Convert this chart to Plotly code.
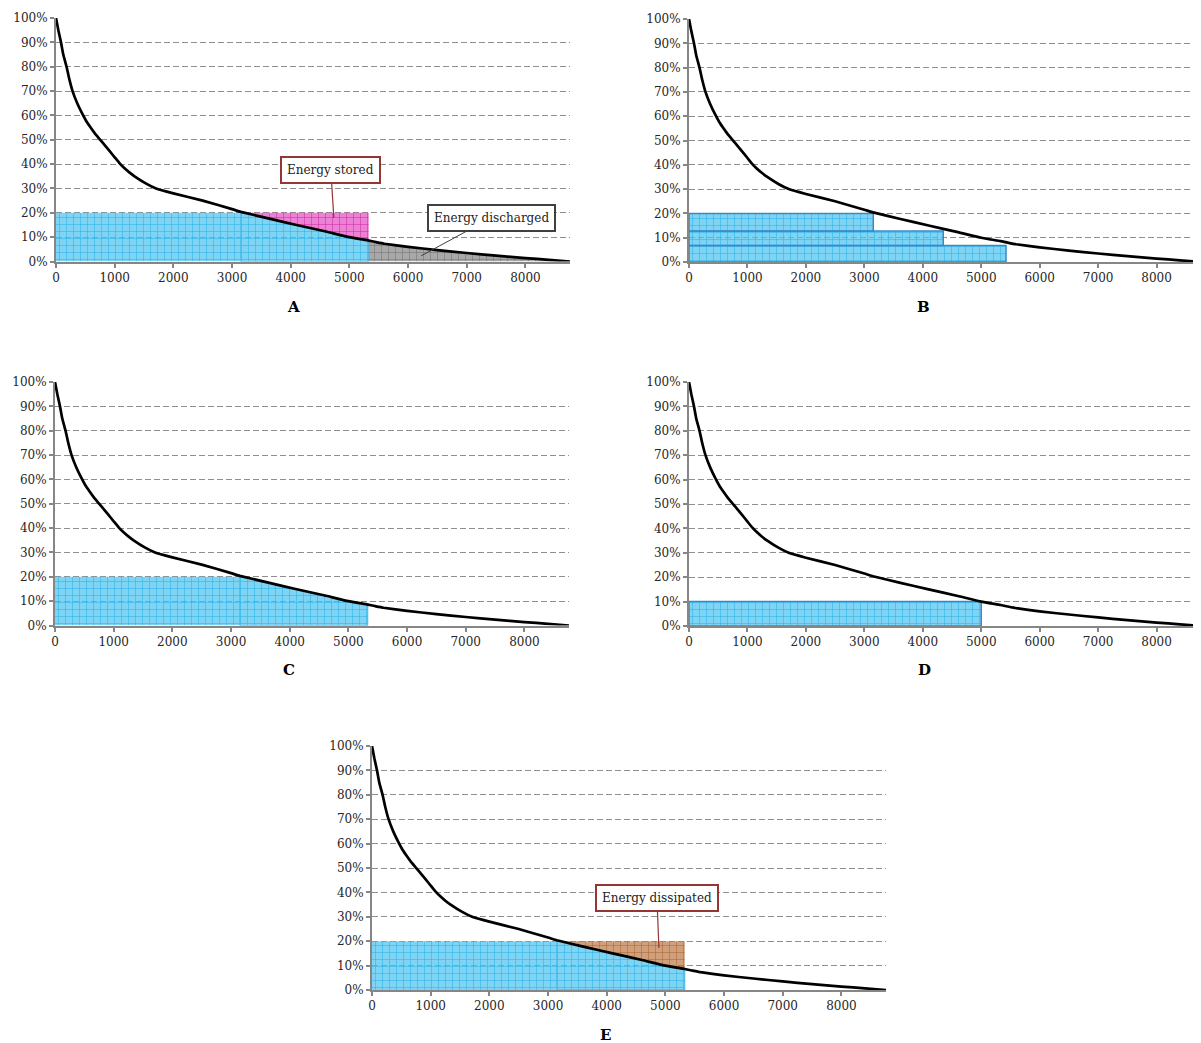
import numpy as np
import plotly.graph_objects as go

# ---------------- data ----------------
curve_hours = [0, 40, 85, 124, 180, 226, 282, 362, 452, 520, 590, 665, 746, 830, 915, 1000,
               1085, 1150, 1250, 1339, 1537, 1706, 2000, 2500, 3000, 3150, 3600, 4100, 4600,
               5000, 5330, 5450, 5600, 6000, 6500, 7000, 7500, 8000, 8400, 8760]
curve_pct = [100, 95, 90, 85, 80, 75, 70, 65, 60.5, 57.5, 55, 52.5, 50.2, 47.8, 45.3, 42.8,
             40.3, 38.7, 36.6, 35, 32, 30, 28, 25, 21.5, 20.4, 17.8, 15, 12.3,
             10, 8.6, 8.0, 7.3, 6.0, 4.7, 3.5, 2.4, 1.4, 0.7, 0]

x_ticks = [0, 1000, 2000, 3000, 4000, 5000, 6000, 7000, 8000]
y_ticks = [0, 10, 20, 30, 40, 50, 60, 70, 80, 90, 100]
panel_labels = ["A", "B", "C", "D", "E"]

store_level = 20          # storage power level (%)
store_start = 3150        # hour where curve crosses storage level
store_end = 5330          # end of storage operation (hours)

# panel B: stacked steps (bottom, top, right end)
b_steps_low = [0, 6.8, 12.8]
b_steps_high = [6.8, 12.8, 20]
b_steps_end = [5424, 4350, 3153]

# panel D: rectangle
d_level = 10
d_end = 5000

x_max = 8760

# ---------------- styles ----------------
BLUE_BG = "rgba(74,194,239,0.7)"
BLUE_FG = "#22b0e8"
PINK_BG = "rgba(230,75,196,0.7)"
PINK_FG = "#c8289e"
GREY_BG = "rgba(131,131,131,0.7)"
GREY_FG = "#6e6e6e"
BROWN_BG = "rgba(188,120,70,0.7)"
BROWN_FG = "#a85e2a"
FONT = "DejaVu Serif"
TXT = "#262626"

OFF = 8  # page body margin offset in the browser
W, H = 1201 + OFF, 1043 + OFF
panels = {
    # name: (left, right, top, bottom) in page pixels
    "A": (56, 570, 18, 261.5),
    "B": (689, 1201, 19, 262),
    "C": (55, 569, 382, 625.5),
    "D": (689, 1201, 382, 626),
    "E": (372, 886, 746, 990),
}
label_pos = {"A": (293, 307), "B": (923, 307), "C": (289, 670), "D": (924, 670), "E": (605, 1035)}

fig = go.Figure()

ch = np.array(curve_hours, dtype=float)
cp = np.array(curve_pct, dtype=float)


def curve_segment(x0, x1):
    mask = (ch > x0) & (ch < x1)
    xs = np.concatenate([[x0], ch[mask], [x1]])
    ys = np.interp(xs, ch, cp)
    return xs, ys


def pat(bg, fg):
    return dict(shape="+", bgcolor=bg, fgcolor=fg, size=7, solidity=0.14, fillmode="replace")


def add_poly(xs, ys, idx, bg, fg, line_color=None, line_width=0):
    ax = "" if idx == 1 else str(idx)
    fig.add_trace(go.Scatter(
        x=list(xs), y=list(ys), mode="lines", fill="toself",
        fillcolor=bg, fillpattern=pat(bg, fg),
        line=dict(color=line_color or "rgba(0,0,0,0)", width=line_width),
        xaxis="x" + ax, yaxis="y" + ax, hoverinfo="skip", showlegend=False))


def add_blue_storage(idx):
    add_poly([0, 0, store_start, store_start, 0], [0, store_level, store_level, 0, 0],
             idx, BLUE_BG, BLUE_FG)
    sx, sy = curve_segment(store_start, store_end)
    xs = np.concatenate([[store_start], sx, [store_end, store_start]])
    ys = np.concatenate([[0], sy, [0, 0]])
    add_poly(xs, ys, idx, BLUE_BG, BLUE_FG, line_color="#3ab8ea", line_width=1)


def add_above(idx, bg, fg):
    sx, sy = curve_segment(store_start, store_end)
    xs = np.concatenate([sx, [store_end, store_start, store_start]])
    ys = np.concatenate([sy, [store_level, store_level, sy[0]]])
    add_poly(xs, ys, idx, bg, fg)


for i, name in enumerate(panel_labels, start=1):
    if name in ("A", "C", "E"):
        add_blue_storage(i)
    if name == "A":
        add_above(i, PINK_BG, PINK_FG)
        sx, sy = curve_segment(store_end, x_max)
        xs = np.concatenate([[store_end], sx, [x_max, store_end]])
        ys = np.concatenate([[0], sy, [0, 0]])
        add_poly(xs, ys, i, GREY_BG, GREY_FG)
    if name == "E":
        add_above(i, BROWN_BG, BROWN_FG)
    if name == "B":
        for lo, hi, end in zip(b_steps_low, b_steps_high, b_steps_end):
            add_poly([0, 0, end, end, 0], [lo, hi, hi, lo, lo], i, BLUE_BG, BLUE_FG,
                     line_color="#3f86c8", line_width=1.5)
    if name == "D":
        add_poly([0, 0, d_end, d_end, 0], [0, d_level, d_level, 0, 0], i, BLUE_BG, BLUE_FG,
                 line_color="#3f86c8", line_width=1.5)
    ax = "" if i == 1 else str(i)
    fig.add_trace(go.Scatter(
        x=curve_hours, y=curve_pct, mode="lines",
        line=dict(color="black", width=2.7, shape="spline", smoothing=0.4),
        xaxis="x" + ax, yaxis="y" + ax, hoverinfo="skip", showlegend=False))

layout = dict(
    width=W, height=H, autosize=False,
    margin=dict(l=0, r=0, t=0, b=0, pad=0),
    paper_bgcolor="white", plot_bgcolor="white",
    font=dict(family=FONT, size=12, color=TXT),
    showlegend=False,
)

annotations = []
for i, name in enumerate(panel_labels, start=1):
    l, r, t, b = [v - OFF for v in panels[name]]
    ax = "" if i == 1 else str(i)
    layout["xaxis" + ax] = dict(
        domain=[l / W, min(r / W, 1.0)], range=[0, x_max], anchor="y" + ax,
        tickvals=x_ticks, ticktext=[str(v) for v in x_ticks], automargin=False,
        showgrid=False, zeroline=False, showline=True, linecolor="#868686", linewidth=2,
        ticks="outside", ticklen=4, tickcolor="#868686", tickwidth=1.5,
        tickfont=dict(family=FONT, size=12, color=TXT), fixedrange=True)
    layout["yaxis" + ax] = dict(
        domain=[1 - b / H, 1 - t / H], range=[0, 100], anchor="x" + ax,
        tickvals=y_ticks, ticktext=[f"{v}%" for v in y_ticks], automargin=False,
        showgrid=True, gridcolor="#8f8f8f", griddash="6px,3px", gridwidth=1.2,
        zeroline=False, showline=True, linecolor="#868686", linewidth=2,
        ticks="outside", ticklen=4, tickcolor="#868686", tickwidth=1.5,
        tickfont=dict(family=FONT, size=12, color=TXT), fixedrange=True)
    lx, ly = label_pos[name]
    annotations.append(dict(
        text=f"<b>{name}</b>", xref="paper", yref="paper",
        x=(lx - OFF) / W, y=1 - (ly - OFF) / H,
        showarrow=False, font=dict(family=FONT, size=15, color="black"),
        xanchor="center", yanchor="middle"))

# callouts
annotations.append(dict(
    text="Energy stored", xref="x", yref="y", x=4735, y=17.9, ax=-3, ay=-48,
    showarrow=True, arrowhead=0, arrowwidth=1.2, arrowcolor="#943634",
    bordercolor="#943634", borderwidth=2, borderpad=5, bgcolor="white",
    font=dict(family=FONT, size=12, color="#222222")))
annotations.append(dict(
    text="Energy discharged", xref="x", yref="y", x=6222, y=2.3, ax=70, ay=-38,
    showarrow=True, arrowhead=0, arrowwidth=1, arrowcolor="#404040",
    bordercolor="#404040", borderwidth=2, borderpad=5, bgcolor="white",
    font=dict(family=FONT, size=12, color="#222222")))
annotations.append(dict(
    text="Energy dissipated", xref="x5", yref="y5", x=4890, y=17.2, ax=-2, ay=-50,
    showarrow=True, arrowhead=0, arrowwidth=1.2, arrowcolor="#943634",
    bordercolor="#943634", borderwidth=2, borderpad=5, bgcolor="white",
    font=dict(family=FONT, size=12, color="#222222")))

layout["annotations"] = annotations
fig.update_layout(**layout)
fig.write_html("out.html")
